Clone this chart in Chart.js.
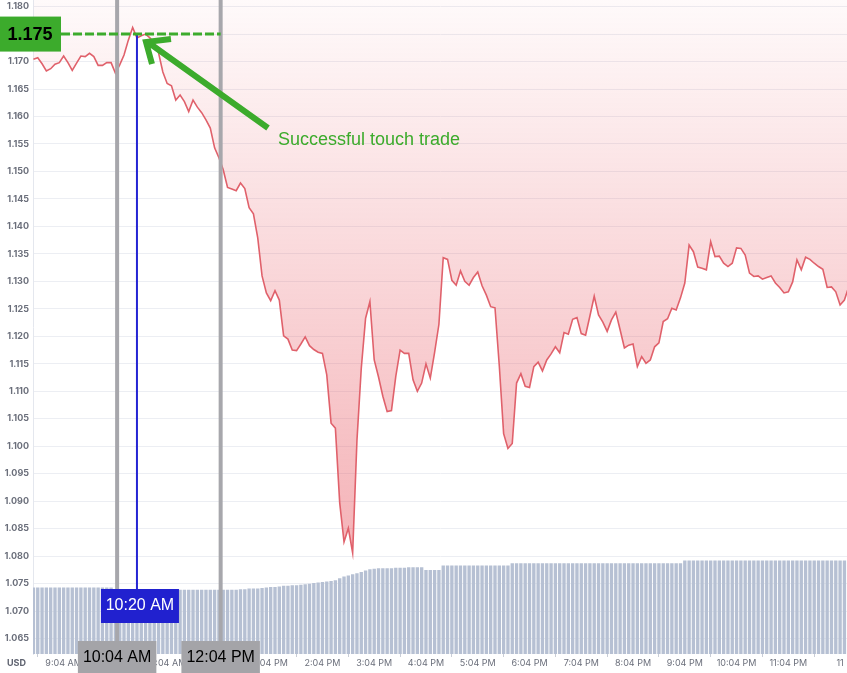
<!DOCTYPE html>
<html>
<head>
<meta charset="utf-8">
<script src="https://cdn.jsdelivr.net/npm/chart.js@4.4.1/dist/chart.umd.min.js"></script>
<style>
  html, body { margin: 0; padding: 0; background: #fff; }
  #wrap { position: relative; width: 847px; height: 673px; }
</style>
</head>
<body>
<div id="wrap"><canvas id="priceChart"></canvas></div>
<script>
// 5-minute samples, first one at 8:29 AM (minutes since midnight)
const START_MIN = 509;
const STEP_MIN = 5;

// price line (USD)
const prices = [
  1.1704, 1.1707, 1.1696, 1.1683, 1.1687, 1.1695, 1.1698, 1.1710, 1.1698, 1.1684,
  1.1697, 1.1710, 1.1709, 1.1715, 1.1709, 1.1693, 1.1693, 1.1698, 1.1698, 1.1679,
  1.1694, 1.1712, 1.1739, 1.1762, 1.1743, 1.1747, 1.1750, 1.1743, 1.1734, 1.1716,
  1.1681, 1.1660, 1.1656, 1.1630, 1.1639, 1.1627, 1.1609, 1.1630, 1.1617, 1.1607,
  1.1594, 1.1579, 1.1543, 1.1525, 1.1503, 1.1471, 1.1468, 1.1465, 1.1479, 1.1469,
  1.1434, 1.1423, 1.1379, 1.1310, 1.1279, 1.1265, 1.1283, 1.1266, 1.1201, 1.1195,
  1.1175, 1.1174, 1.1186, 1.1199, 1.1183, 1.1176, 1.1171, 1.1169, 1.1130, 1.1042,
  1.1033, 1.0897, 1.0826, 1.0851, 1.0806, 1.1011, 1.1142, 1.1233, 1.1263, 1.1157,
  1.1126, 1.1091, 1.1063, 1.1065, 1.1127, 1.1175, 1.1169, 1.1169, 1.1121, 1.1100,
  1.1115, 1.1150, 1.1124, 1.1171, 1.1222, 1.1343, 1.1340, 1.1302, 1.1293, 1.1319,
  1.1300, 1.1293, 1.1307, 1.1317, 1.1292, 1.1275, 1.1254, 1.1252, 1.1146, 1.1023,
  1.0996, 1.1005, 1.1115, 1.1132, 1.1109, 1.1107, 1.1145, 1.1153, 1.1137, 1.1157,
  1.1168, 1.1181, 1.1170, 1.1207, 1.1204, 1.1231, 1.1234, 1.1205, 1.1202, 1.1237,
  1.1273, 1.1239, 1.1226, 1.1209, 1.1230, 1.1244, 1.1212, 1.1179, 1.1184, 1.1186,
  1.1145, 1.1163, 1.1151, 1.1157, 1.1181, 1.1188, 1.1227, 1.1232, 1.1251, 1.1248,
  1.1270, 1.1297, 1.1366, 1.1354, 1.1326, 1.1324, 1.1321, 1.1372, 1.1345, 1.1346,
  1.1333, 1.1327, 1.1333, 1.1361, 1.1360, 1.1348, 1.1315, 1.1309, 1.1310, 1.1304,
  1.1307, 1.1310, 1.1297, 1.1289, 1.1279, 1.1281, 1.1299, 1.1339, 1.1321, 1.1344,
  1.1340, 1.1333, 1.1327, 1.1322, 1.1289, 1.1290, 1.1281, 1.1257, 1.1266, 1.1290
];

// grey bars at the bottom
const bars = [
  1.0743, 1.0743, 1.0743, 1.0743, 1.0743, 1.0743, 1.0743, 1.0743, 1.0743, 1.0743,
  1.0743, 1.0743, 1.0743, 1.0743, 1.0743, 1.0743, 1.0743, 1.0743, 1.0743, 1.0739,
  1.0739, 1.0739, 1.0739, 1.0739, 1.0739, 1.0739, 1.0739, 1.0739, 1.0739, 1.0739,
  1.0739, 1.0739, 1.0739, 1.0739, 1.0739, 1.0739, 1.0739, 1.0739, 1.0739, 1.0739,
  1.0739, 1.0739, 1.0739, 1.0739, 1.0739, 1.0739, 1.0739, 1.0739, 1.0740, 1.0740,
  1.0741, 1.0741, 1.0741, 1.0742, 1.0743, 1.0744, 1.0744, 1.0745, 1.0746, 1.0746,
  1.0747, 1.0747, 1.0748, 1.0749, 1.0750, 1.0751, 1.0752, 1.0753, 1.0754, 1.0755,
  1.0756, 1.0760, 1.0763, 1.0765, 1.0767, 1.0769, 1.0771, 1.0774, 1.0776, 1.0777,
  1.0778, 1.0778, 1.0778, 1.0778, 1.0779, 1.0779, 1.0779, 1.0780, 1.0780, 1.0780,
  1.0780, 1.0775, 1.0775, 1.0775, 1.0775, 1.0783, 1.0783, 1.0783, 1.0783, 1.0783,
  1.0783, 1.0783, 1.0783, 1.0783, 1.0783, 1.0783, 1.0783, 1.0783, 1.0783, 1.0783,
  1.0783, 1.0787, 1.0787, 1.0787, 1.0787, 1.0787, 1.0787, 1.0787, 1.0787, 1.0787,
  1.0787, 1.0787, 1.0787, 1.0787, 1.0787, 1.0787, 1.0787, 1.0787, 1.0787, 1.0787,
  1.0787, 1.0787, 1.0787, 1.0787, 1.0787, 1.0787, 1.0787, 1.0787, 1.0787, 1.0787,
  1.0787, 1.0787, 1.0787, 1.0787, 1.0787, 1.0787, 1.0787, 1.0787, 1.0787, 1.0787,
  1.0787, 1.0792, 1.0792, 1.0792, 1.0792, 1.0792, 1.0792, 1.0792, 1.0792, 1.0792,
  1.0792, 1.0792, 1.0792, 1.0792, 1.0792, 1.0792, 1.0792, 1.0792, 1.0792, 1.0792,
  1.0792, 1.0792, 1.0792, 1.0792, 1.0792, 1.0792, 1.0792, 1.0792, 1.0792, 1.0792,
  1.0792, 1.0792, 1.0792, 1.0792, 1.0792, 1.0792, 1.0792, 1.0792, 1.0792, 1.0792
];

// x axis: one label per hour, first at 9:04 AM
const FIRST_TICK_MIN = 544;
const xTickLabels = ['9:04 AM', '10:04 AM', '11:04 AM', '12:04 PM', '1:04 PM', '2:04 PM', '3:04 PM', '4:04 PM',
  '5:04 PM', '6:04 PM', '7:04 PM', '8:04 PM', '9:04 PM', '10:04 PM', '11:04 PM', '11'];

// markers drawn on top
const markers = [{ t: 606, label: '10:04 AM' }, { t: 726, label: '12:04 PM' }];
const entry = { t: 629, label: '10:20 AM' };
const target = { price: 1.175, label: '1.175' };
const note = 'Successful touch trade';

const times = prices.map((_, i) => START_MIN + STEP_MIN * i);
const GREEN = '#3cab2c';

const overlay = {
  id: 'overlay',
  afterDraw(chart) {
    const ctx = chart.ctx;
    const xs = chart.scales.x, ys = chart.scales.y;
    ctx.save();
    ctx.font = '16px "Liberation Sans", Arial, sans-serif';
    ctx.textAlign = 'center';
    ctx.textBaseline = 'middle';

    // grey time lines + labels
    markers.forEach(m => {
      const px = xs.getPixelForValue(m.t);
      ctx.strokeStyle = '#a7a7ac';
      ctx.lineWidth = 4;
      ctx.beginPath(); ctx.moveTo(px, 0); ctx.lineTo(px, 641); ctx.stroke();
      const w = ctx.measureText(m.label).width + 10;
      ctx.fillStyle = '#a4a4a8';
      ctx.fillRect(px - w / 2, 641, w, 32);
      ctx.fillStyle = '#000';
      ctx.fillText(m.label, px, 658);
    });

    // blue entry line + label
    const bx = xs.getPixelForValue(entry.t);
    const ty = ys.getPixelForValue(target.price);
    ctx.strokeStyle = '#2525d4';
    ctx.lineWidth = 2;
    ctx.beginPath(); ctx.moveTo(bx, ty); ctx.lineTo(bx, 589); ctx.stroke();
    ctx.fillStyle = '#2121cf';
    ctx.fillRect(bx - 36, 589, 78, 34);
    ctx.fillStyle = '#fff';
    ctx.fillText(entry.label, bx + 3, 606);

    // green target line + box
    ctx.strokeStyle = GREEN;
    ctx.lineWidth = 3;
    ctx.setLineDash([9, 3]);
    ctx.beginPath(); ctx.moveTo(61, ty); ctx.lineTo(xs.getPixelForValue(markers[1].t), ty); ctx.stroke();
    ctx.setLineDash([]);
    ctx.fillStyle = GREEN;
    ctx.fillRect(0, ty - 17.5, 61, 35);
    ctx.fillStyle = '#000';
    ctx.font = 'bold 18px "Liberation Sans", Arial, sans-serif';
    ctx.fillText(target.label, 30, ty + 1);

    // arrow
    ctx.strokeStyle = GREEN;
    ctx.lineWidth = 6;
    ctx.lineCap = 'butt';
    ctx.beginPath();
    ctx.moveTo(268, 128); ctx.lineTo(149, 43);
    ctx.moveTo(171, 39); ctx.lineTo(146, 42); ctx.lineTo(152, 64);
    ctx.stroke();

    ctx.fillStyle = GREEN;
    ctx.font = '18px "Liberation Sans", Arial, sans-serif';
    ctx.textAlign = 'left';
    ctx.textBaseline = 'alphabetic';
    ctx.fillText(note, 278, 145);

    // currency label
    ctx.fillStyle = '#5f6370';
    ctx.font = 'bold 9px Inter, sans-serif';
    ctx.fillText('USD', 7, 666);
    ctx.restore();
  }
};

const ctx = document.getElementById('priceChart').getContext('2d');
new Chart(ctx, {
  data: {
    datasets: [{
      type: 'line',
      data: prices.map((v, i) => ({ x: times[i], y: v })),
      borderColor: '#e0616b',
      borderWidth: 1.6,
      pointRadius: 0,
      tension: 0,
      fill: 'end',
      backgroundColor: (c) => {
        const area = c.chart.chartArea;
        if (!area) return 'rgba(232,90,100,0.2)';
        const g = c.chart.ctx.createLinearGradient(0, area.top, 0, area.bottom);
        g.addColorStop(0, 'rgba(232,90,100,0.03)');
        g.addColorStop(0.86, 'rgba(232,90,100,0.47)');
        g.addColorStop(1, 'rgba(232,90,100,0.54)');
        return g;
      },
      order: 0
    }, {
      type: 'bar',
      data: bars.map((v, i) => ({ x: times[i], y: v })),
      backgroundColor: '#b6c0d3',
      barPercentage: 1,
      categoryPercentage: 0.78,
      order: 1
    }]
  },
  options: {
    responsive: true,
    maintainAspectRatio: false,
    animation: false,
    layout: { padding: 0 },
    plugins: { legend: { display: false }, tooltip: { enabled: false } },
    scales: {
      x: {
        type: 'linear',
        offset: false,
        min: 508.5,
        max: 1452,
        afterBuildTicks: (s) => { s.ticks = xTickLabels.map((_, k) => ({ value: FIRST_TICK_MIN + 60 * k })); },
        afterFit: (s) => { s.height = 19; s.paddingLeft = 0; s.paddingRight = 0; },
        ticks: {
          autoSkip: false,
          maxRotation: 0,
          padding: 1,
          color: '#6b6f7b',
          font: { family: 'Inter', size: 9 },
          callback: (v, k) => xTickLabels[k]
        },
        grid: { drawOnChartArea: false, drawTicks: true, tickLength: 3, color: '#c9cdd6' },
        border: { display: false }
      },
      y: {
        min: 1.0622,
        max: 1.1812,
        afterBuildTicks: (s) => {
          const t = [];
          for (let k = 0; k <= 23; k++) t.push({ value: +(1.065 + 0.005 * k).toFixed(3) });
          s.ticks = t;
        },
        afterFit: (s) => { s.width = 33; s.paddingTop = 0; s.paddingBottom = 0; },
        ticks: {
          padding: 4,
          color: '#6b6f7b',
          font: { family: 'Inter', size: 9, weight: 'bold' },
          callback: (v) => v.toFixed(3)
        },
        grid: { color: '#eceef3', drawTicks: false },
        border: { display: true, color: '#e4e7ee' }
      }
    }
  },
  plugins: [overlay]
});
</script>
</body>
</html>
